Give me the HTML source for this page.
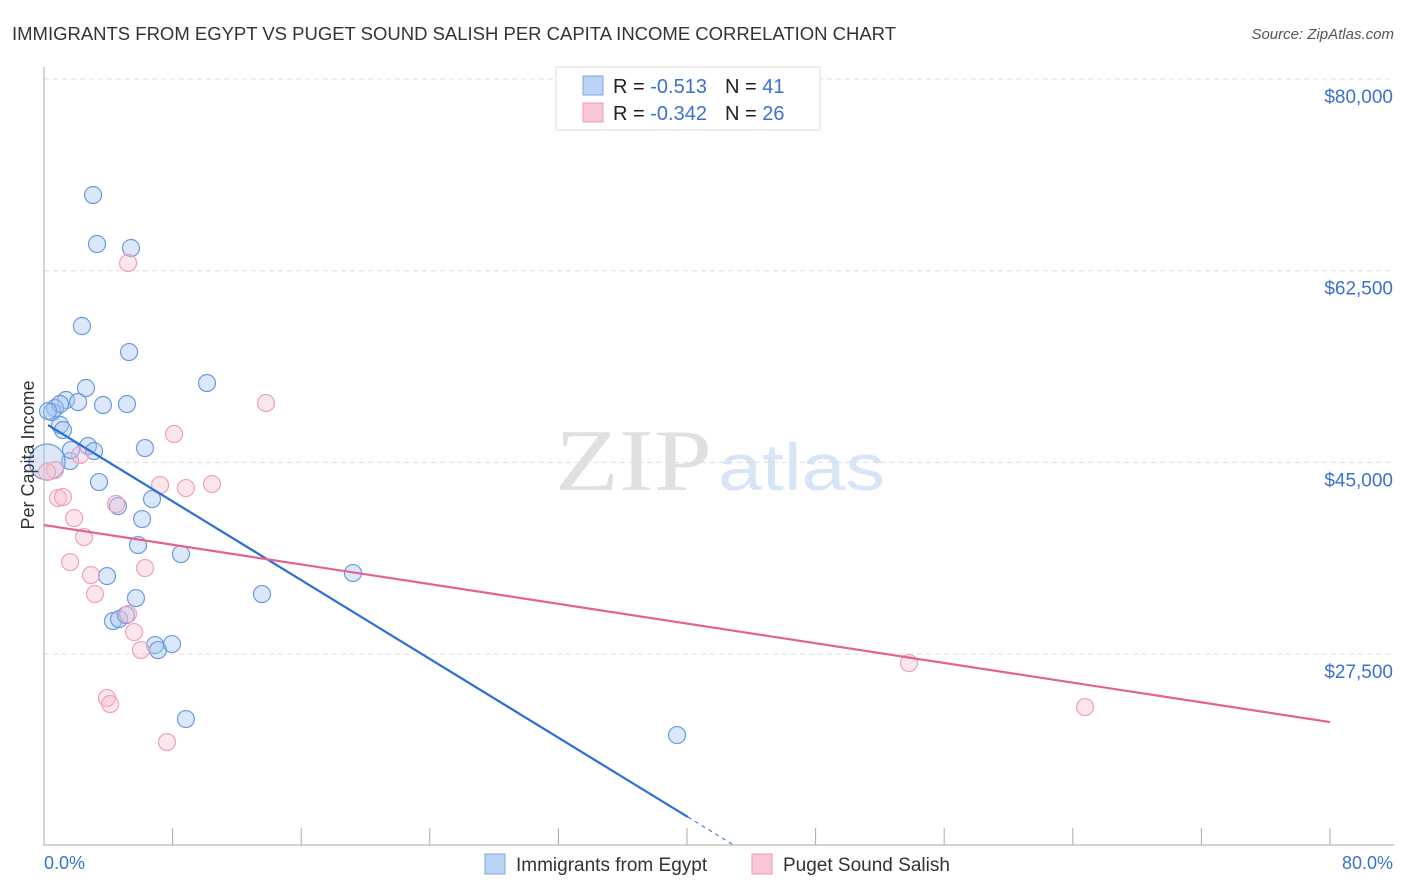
<!DOCTYPE html>
<html><head><meta charset="utf-8"><style>
body{margin:0;background:#fff;font-family:"Liberation Sans",sans-serif;}
svg{display:block}
</style></head><body>
<svg id="chart" width="1406" height="892" xmlns="http://www.w3.org/2000/svg">
<text x="12" y="40" font-size="18" fill="#333" textLength="884" lengthAdjust="spacingAndGlyphs">IMMIGRANTS FROM EGYPT VS PUGET SOUND SALISH PER CAPITA INCOME CORRELATION CHART</text>
<text x="1394" y="39" font-size="15" fill="#555" font-style="italic" text-anchor="end">Source: ZipAtlas.com</text>
<text x="555" y="490" font-size="88" fill="#e0e0e0" font-family="Liberation Serif,serif" textLength="157" lengthAdjust="spacingAndGlyphs">ZIP</text>
<text x="718" y="490" font-size="66" fill="#d8e5f6" textLength="167" lengthAdjust="spacingAndGlyphs">atlas</text>
<g id="grid"></g><g id="axes"></g><g id="pts"></g><g id="lines"></g>
<text transform="translate(34,455) rotate(-90)" font-size="18" fill="#333" text-anchor="middle">Per Capita Income</text>
<text x="44" y="869" font-size="18" fill="#3a72d0">0.0%</text>
<text x="1393" y="869" font-size="18" fill="#3a72d0" text-anchor="end">80.0%</text>
<g>
<rect x="556" y="67" width="264" height="63" fill="#fff" stroke="#ddd"/>
<rect x="583" y="76" width="20" height="19" fill="#bcd3f5" stroke="#7da5e6"/>
<rect x="583" y="103" width="20" height="19" fill="#f9c6d5" stroke="#ee9ab4"/>
<text x="613" y="93" font-size="20" fill="#222">R = <tspan fill="#3a72d0"> -0.513</tspan><tspan dx="18">N = </tspan><tspan fill="#3a72d0"> 41</tspan></text>
<text x="613" y="120" font-size="20" fill="#222">R = <tspan fill="#3a72d0">-0.342</tspan><tspan dx="18">N = </tspan><tspan fill="#3a72d0">26</tspan></text>
</g>
<g>
<rect x="485" y="854" width="20" height="20" fill="#bcd3f5" stroke="#7da5e6"/>
<text x="516" y="871" font-size="19" fill="#333">Immigrants from Egypt</text>
<rect x="752" y="854" width="20" height="20" fill="#f9c6d5" stroke="#ee9ab4"/>
<text x="783" y="871" font-size="19" fill="#333">Puget Sound Salish</text>
</g>
</svg>
<script>
const yTicks=[27500,45000,62500,80000];
const yTickLabels=["$27,500","$45,000","$62,500","$80,000"];
const xTicks=[0,8,16,24,32,40,48,56,64,72,80];
const blueX=[3.05,3.30,5.41,2.36,5.29,10.14,2.61,1.37,2.12,3.67,5.16,0.68,0.50,1.00,1.00,1.18,2.74,3.11,6.28,1.62,1.68,3.42,4.60,6.72,6.10,5.85,8.52,3.92,19.22,13.56,5.72,4.29,4.67,5.10,6.91,7.09,7.96,8.83,39.38,0.19,0.25];
const blueY=[69410,64936,64571,57450,55076,52245,51789,50693,50510,50236,50328,49962,49597,50328,48410,47954,46493,46036,46310,45123,46127,43206,41015,41654,39828,37454,36633,34624,34898,32981,32616,30516,30698,31064,28325,27869,28416,21569,20108,45033,49688];
const pinkX=[5.23,13.81,8.09,2.24,8.83,10.45,7.22,4.48,0.68,0.19,0.87,1.18,1.87,2.49,1.62,2.92,6.28,3.17,5.23,5.60,6.03,3.92,4.11,7.65,53.81,64.76];
const pinkY=[63201,50419,47589,45671,42658,43023,42932,41198,44302,44119,41745,41837,39919,38184,35902,34715,35354,32981,31155,29512,27869,23486,22938,19469,26682,22665];
const blueTrend=[48635,-899];
const pinkTrend=[39280,-224.8];
const NS="http://www.w3.org/2000/svg";
const X=v=>44+v/80*1286;
const Y=v=>79+(80000-v)/1000*10.954;
function mk(t,a,p){const e=document.createElementNS(NS,t);for(const k in a)e.setAttribute(k,a[k]);document.getElementById(p).appendChild(e);return e;}
yTicks.forEach((t,i)=>{
 let l=mk('line',{x1:44,x2:1394,y1:Y(t),y2:Y(t),stroke:'#ddd','stroke-dasharray':'5,4'},'grid');
 
 
 let tx=mk('text',{x:1393,y:Y(t)+24,'font-size':19,fill:'#3a72d0','text-anchor':'end'},'grid');
 tx.textContent=yTickLabels[i];
 
 
});
let ax=mk('line',{x1:44,x2:44,y1:67,y2:845,stroke:'#aaa'},'axes');


let bx=mk('line',{x1:44,x2:1394,y1:845,y2:845,stroke:'#aaa'},'axes');


xTicks.forEach(t=>{
 let l=mk('line',{x1:X(t),x2:X(t),y1:828,y2:845,stroke:'#aaa'},'axes');
 
 
});
blueX.forEach((x,i)=>{
 const big=(i===39);
 let c=mk('circle',{cx:X(x),cy:Y(blueY[i]),r:big?18:8.5,fill:'rgba(165,198,240,0.4)',stroke:'#6a9be2','stroke-width':1.2},'pts');
 
 
});
pinkX.forEach((x,i)=>{
 let c=mk('circle',{cx:X(x),cy:Y(pinkY[i]),r:8.5,fill:'rgba(248,190,208,0.38)',stroke:'#f0a0b9','stroke-width':1.2},'pts');
 
 
});
const bEnd=40.06, bZero=(10000-blueTrend[0])/blueTrend[1];
let bl=mk('line',{x1:X(0.25),y1:Y(blueTrend[0]+blueTrend[1]*0.25),x2:X(bEnd),y2:Y(blueTrend[0]+blueTrend[1]*bEnd),stroke:'#2a6fd6','stroke-width':2.2},'lines');


let bd=mk('line',{x1:X(bEnd),y1:Y(blueTrend[0]+blueTrend[1]*bEnd),x2:X(bZero),y2:Y(10000),stroke:'#2a6fd6','stroke-width':1,'stroke-dasharray':'4,4'},'lines');


let pl=mk('line',{x1:X(0),y1:Y(pinkTrend[0]),x2:X(80),y2:Y(pinkTrend[0]+pinkTrend[1]*80),stroke:'#e3628e','stroke-width':2.2},'lines');


</script>
</body></html>
